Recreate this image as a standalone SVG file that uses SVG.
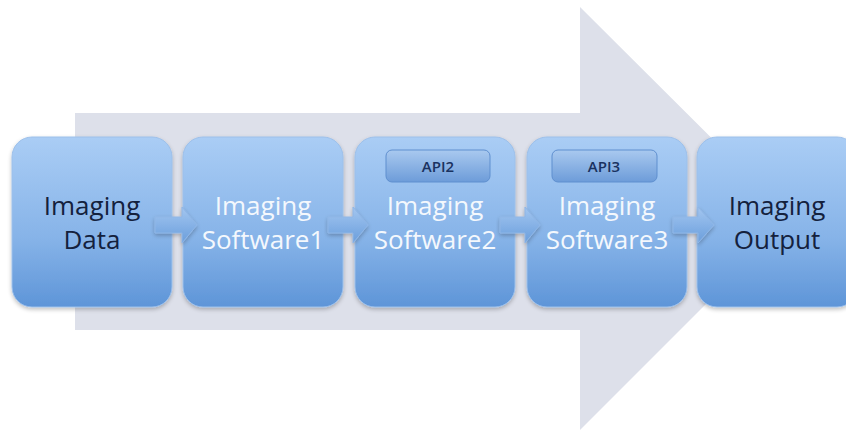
<svg xmlns="http://www.w3.org/2000/svg" width="846" height="434" viewBox="0 0 846 434">
<defs>
<linearGradient id="boxg" x1="0" y1="0" x2="0" y2="1">
<stop offset="0" stop-color="#aacdf5"/>
<stop offset="0.6" stop-color="#86b3e8"/>
<stop offset="1" stop-color="#5e95d8"/>
</linearGradient>
<linearGradient id="apig" x1="0" y1="0" x2="0" y2="1">
<stop offset="0" stop-color="#a9c9ef"/>
<stop offset="1" stop-color="#6d9cd9"/>
</linearGradient>
<linearGradient id="arrg" x1="0" y1="0" x2="0" y2="1">
<stop offset="0" stop-color="#a3c6f0"/>
<stop offset="1" stop-color="#6a9edc"/>
</linearGradient>
<filter id="sh" x="-10%" y="-10%" width="130%" height="130%">
<feGaussianBlur in="SourceAlpha" stdDeviation="2"/>
<feOffset dx="0" dy="2"/>
<feComponentTransfer><feFuncA type="linear" slope="0.25"/></feComponentTransfer>
<feMerge><feMergeNode/><feMergeNode in="SourceGraphic"/></feMerge>
</filter>
</defs>
<style>
.box{fill:url(#boxg);stroke:#9dc0ea;stroke-width:1;filter:url(#sh)}
.api{fill:url(#apig);stroke:#5f8fcf;stroke-width:1}
.t{font-family:"Open Sans","Liberation Sans",sans-serif;font-size:26px;text-anchor:middle}
.dark{fill:#14213d}
.light{fill:#f4f8fd}
.at{font-family:"Open Sans","Liberation Sans",sans-serif;font-size:15px;font-weight:600;text-anchor:middle;fill:#1a3260}
.sa{fill:url(#arrg);stroke:#8fb6e6;stroke-width:1;filter:url(#sh)}
</style>
<rect width="846" height="434" fill="#ffffff"/>
<polygon id="bigarrow" points="75,113 580,113 580,7 792,218 580,430 580,330 75,330" fill="#dde0ea"/>
<g id="data">
<rect class="box" x="12" y="137" width="160" height="170" rx="20"/>
<text class="t dark" x="92" y="215">Imaging</text>
<text class="t dark" x="92" y="249">Data</text>
</g>
<g id="sw1">
<rect class="box" x="183" y="137" width="160" height="170" rx="20"/>
<text class="t light" x="263" y="215">Imaging</text>
<text class="t light" x="263" y="249">Software1</text>
</g>
<g id="sw2">
<rect class="box" x="355" y="137" width="160" height="170" rx="20"/>
<rect class="api" x="386" y="150" width="104" height="32" rx="6"/>
<text class="at" x="438" y="171.5">API2</text>
<text class="t light" x="435" y="215">Imaging</text>
<text class="t light" x="435" y="249">Software2</text>
</g>
<g id="sw3">
<rect class="box" x="527" y="137" width="160" height="170" rx="20"/>
<rect class="api" x="552" y="150" width="105" height="32" rx="6"/>
<text class="at" x="604" y="171.5">API3</text>
<text class="t light" x="607" y="215">Imaging</text>
<text class="t light" x="607" y="249">Software3</text>
</g>
<g id="output">
<rect class="box" x="697" y="137" width="160" height="170" rx="20"/>
<text class="t dark" x="777" y="215">Imaging</text>
<text class="t dark" x="777" y="249">Output</text>
</g>
<g id="connectors">
<polygon class="sa" points="155,217 182,217 182,207 197,225 182,243 182,233 155,233"/>
<polygon class="sa" points="328,217 353,217 353,207 368,225 353,243 353,233 328,233"/>
<polygon class="sa" points="500,217 525,217 525,207 540,225 525,243 525,233 500,233"/>
<polygon class="sa" points="673,217 698,217 698,207 714,225 698,243 698,233 673,233"/>
</g>
</svg>
